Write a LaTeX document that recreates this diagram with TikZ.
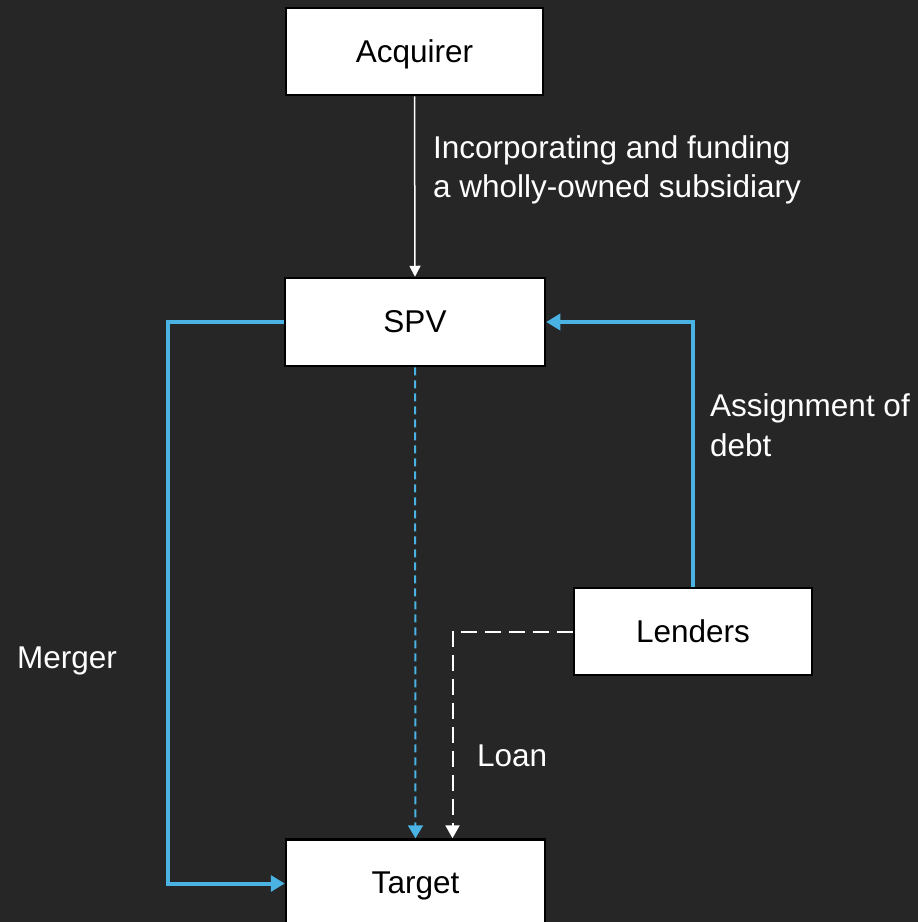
\documentclass[tikz,border=0pt]{standalone}
\usepackage{fontspec}
\setmainfont{Liberation Sans}
\usetikzlibrary{arrows.meta}
\definecolor{bg}{HTML}{262626}
\definecolor{lblue}{HTML}{4AB3E3}
\begin{document}
\begin{tikzpicture}[x=1pt,y=-1pt,
  box/.style={draw=black,line width=2.5pt,fill=white,text=black,inner sep=0pt,
    font=\fontsize{31.5}{38}\selectfont},
  lbl/.style={text=white,inner sep=0pt,align=left,anchor=west,
    font=\fontsize{31.5}{39.5}\selectfont},
  wline/.style={draw=white,line width=1.5pt,-{Triangle[length=11pt,width=11pt]}},
  bline/.style={draw=lblue,line width=4pt,-{Triangle[length=14pt,width=16pt]}},
  bdash/.style={draw=lblue,line width=2pt,dash pattern=on 8pt off 5pt,-{Triangle[length=13pt,width=15pt]}},
  wdash/.style={draw=white,line width=2pt,dash pattern=on 16pt off 8pt,-{Triangle[length=13pt,width=14pt]}}
]
\fill[bg] (0,0) rectangle (918,922);
\useasboundingbox (0,0) rectangle (918,922);
\begin{scope}
\clip (0,0) rectangle (918,922);
\node[box,minimum width=257pt,minimum height=87pt,text depth=1pt] (acq) at (414.5,51.5) {Acquirer};
\node[box,minimum width=260pt,minimum height=88pt] (spv) at (415,322) {SPV};
\node[box,minimum width=238pt,minimum height=87pt] (len) at (693,631.5) {Lenders};
\node[box,minimum width=259pt,minimum height=88pt,text depth=1pt] (tgt) at (415.5,883.5) {Target};

\draw[wline] (acq.south) -- (spv.north);
\node[lbl] (l1) at (433,170) {Incorporating and funding\\a wholly-owned subsidiary};

\coordinate (mc) at (168,322);
\draw[bline] (spv.west) -- (mc) |- (tgt.west);
\node[lbl] (l2) at (17,661) {Merger};

\draw[bline] (len.north) |- (spv.east);
\node[lbl] (l3) at (710,425) {Assignment of\\debt};

\draw[bdash] (spv.south) -- (tgt.north);

\draw[wdash] (len.west) -| ([xshift=37pt]tgt.north);
\node[lbl] (l4) at (477,756) {Loan};
\end{scope}
\end{tikzpicture}
\end{document}
